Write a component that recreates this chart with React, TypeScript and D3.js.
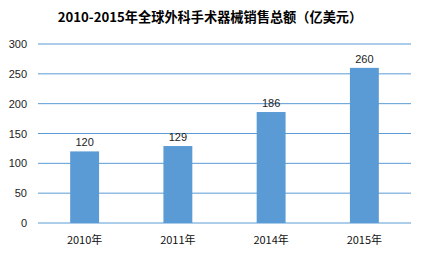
import React from "react";
import * as d3 from "d3";

const categories = ["2010年", "2011年", "2014年", "2015年"];
const values = [120, 129, 186, 260];
const yTicks = [0, 50, 100, 150, 200, 250, 300];
const title = "2010-2015年全球外科手术器械销售总额（亿美元）";

export default function App() {
  const W = 426, H = 256;
  const left = 38, right = 411, top = 44, bottom = 223;
  const x = d3.scaleBand().domain(categories).range([left, right]).paddingInner(0.69).paddingOuter(0.345);
  const y = d3.scaleLinear().domain([0, 300]).range([bottom, top]);
  const color = "#5b9bd5";
  return (
    <svg width={W} height={H} style={{ position: "absolute", left: 0, top: 0, background: "#fff" }}
      fontFamily="'Noto Sans CJK SC',sans-serif">
      <rect width={W} height={H} fill="#fff" />
      <text x={210} y={22} textAnchor="middle" fontSize={13.2} fontWeight="bold" fill="#000"
        fontFamily="'Noto Sans CJK SC',sans-serif">{title}</text>
      {yTicks.map((t) => (
        <g key={t}>
          <line x1={left} x2={right} y1={y(t)} y2={y(t)} stroke={color} strokeWidth={1} />
          <text x={27} y={y(t) + 4} textAnchor="end" fontSize={11} fill="#222"
            fontFamily="'Liberation Sans',Arial,sans-serif">{t}</text>
        </g>
      ))}
      {categories.map((c, i) => (
        <g key={c}>
          <rect x={x(c)} y={y(values[i])} width={x.bandwidth()} height={y(0) - y(values[i])} fill={color} />
          <text x={(x(c) as number) + x.bandwidth() / 2} y={y(values[i]) - 5} textAnchor="middle" fontSize={11} fill="#222"
            fontFamily="'Liberation Sans',Arial,sans-serif">{values[i]}</text>
          <text x={(x(c) as number) + x.bandwidth() / 2} y={244} textAnchor="middle" fontSize={11} fill="#111"
            fontFamily="'Noto Sans CJK SC',sans-serif">{c}</text>
        </g>
      ))}
    </svg>
  );
}
